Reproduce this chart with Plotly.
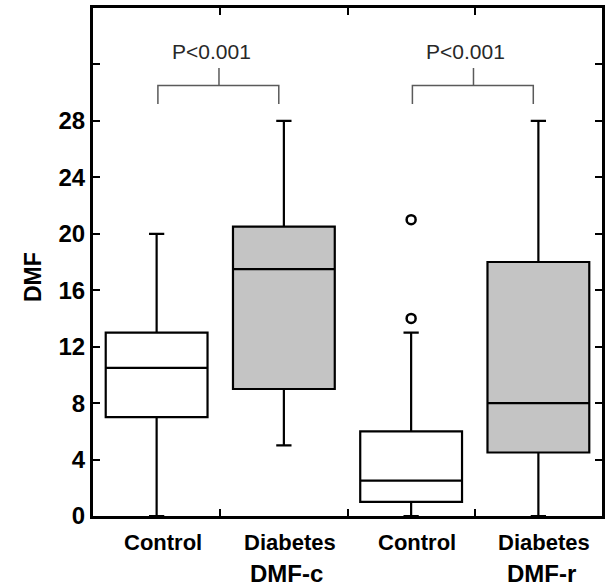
import plotly.graph_objects as go

# ---- data ----
groups = ["Control", "Diabetes", "Control", "Diabetes"]
measures = ["DMF-c", "DMF-c", "DMF-r", "DMF-r"]
q1 = [7, 9, 1, 4.5]
median = [10.5, 17.5, 2.5, 8]
q3 = [13, 20.5, 6, 18]
lower = [0, 5, 0, 0]
upper = [20, 28, 13, 28]
outlier_x = [2, 2]
outlier_y = [14, 21]
fills = ["white", "rgb(196,196,196)", "white", "rgb(196,196,196)"]
y_ticks = [0, 4, 8, 12, 16, 20, 24, 28, 32]
y_ticklabels = ["0", "4", "8", "12", "16", "20", "24", "28", ""]
comparisons = [(0, 1), (2, 3)]
p_labels = ["P<0.001", "P<0.001"]
bracket_y = 30.5

FONT = "Liberation Sans, Arial, sans-serif"

fig = go.Figure()
for i in range(len(groups)):
    fig.add_trace(go.Box(
        x=[i], q1=[q1[i]], median=[median[i]], q3=[q3[i]],
        lowerfence=[lower[i]], upperfence=[upper[i]],
        width=0.8, whiskerwidth=0.15,
        fillcolor=fills[i], line=dict(color="black", width=2.2),
        boxpoints=False, showlegend=False, hoverinfo="skip",
    ))

fig.add_trace(go.Scatter(
    x=outlier_x, y=outlier_y, mode="markers",
    marker=dict(symbol="circle-open", size=9, color="black", line=dict(width=2.5)),
    showlegend=False, hoverinfo="skip",
))

# significance brackets
gray = "rgb(90,90,90)"
for (a, b), lab in zip(comparisons, p_labels):
    xl, xr = a + 0.01, b - 0.04
    xm = (a + b) / 2 - 0.01
    fig.add_shape(type="path",
                  path=f"M {xl} {bracket_y-1.3} L {xl} {bracket_y} L {xr} {bracket_y} L {xr} {bracket_y-1.3}",
                  line=dict(color=gray, width=1.5), xref="x", yref="y")
    fig.add_shape(type="line", x0=xm, x1=xm, y0=bracket_y, y1=bracket_y + 1.25,
                  line=dict(color=gray, width=1.5), xref="x", yref="y")
    fig.add_annotation(x=xm - 0.06, y=bracket_y + 2.45, text=lab, showarrow=False,
                       font=dict(family=FONT, size=21, color="rgb(40,40,40)"),
                       xref="x", yref="y")

# category labels
for i, g in enumerate(groups):
    fig.add_annotation(x=i, y=0, xref="x", yref="y", text=f"<b>{g}</b>",
                       showarrow=False, yanchor="middle", yshift=-26, xshift=6,
                       font=dict(family=FONT, size=22, color="black"))
for a, b in comparisons:
    fig.add_annotation(x=b, y=0, xref="x", yref="y", text=f"<b>{measures[b]}</b>",
                       showarrow=False, yanchor="middle", yshift=-57, xshift=3,
                       font=dict(family=FONT, size=24, color="black"))

# y-axis title
fig.add_annotation(x=0, y=0.5, xref="paper", yref="paper", text="<b>DMF</b>",
                   textangle=-90, showarrow=False, xshift=-75, yshift=-15,
                   font=dict(family=FONT, size=23, color="black"))

fig.update_layout(
    width=614, height=588,
    margin=dict(l=93, r=12, t=8, b=72, autoexpand=False),
    paper_bgcolor="white", plot_bgcolor="white",
    boxmode="overlay",
    font=dict(family=FONT, color="black"),
    xaxis=dict(range=[-0.5, 3.5], tickvals=[0.5, 1.5, 2.5], ticktext=["", "", ""],
               ticks="inside", ticklen=7, tickwidth=2, tickcolor="black",
               showline=True, linecolor="black", linewidth=3, mirror="ticks",
               showgrid=False, zeroline=False, automargin=False),
    yaxis=dict(range=[0, 36], tickvals=y_ticks, ticktext=y_ticklabels,
               ticks="inside", ticklen=7, tickwidth=2, tickcolor="black",
               showline=True, linecolor="black", linewidth=3, mirror="ticks",
               showgrid=False, zeroline=False, automargin=False,
               tickfont=dict(family=FONT, size=24, color="black", weight="bold")),
)

fig.write_html("out.html", config={"displayModeBar": False},
               post_script="document.body.style.margin='0';")
